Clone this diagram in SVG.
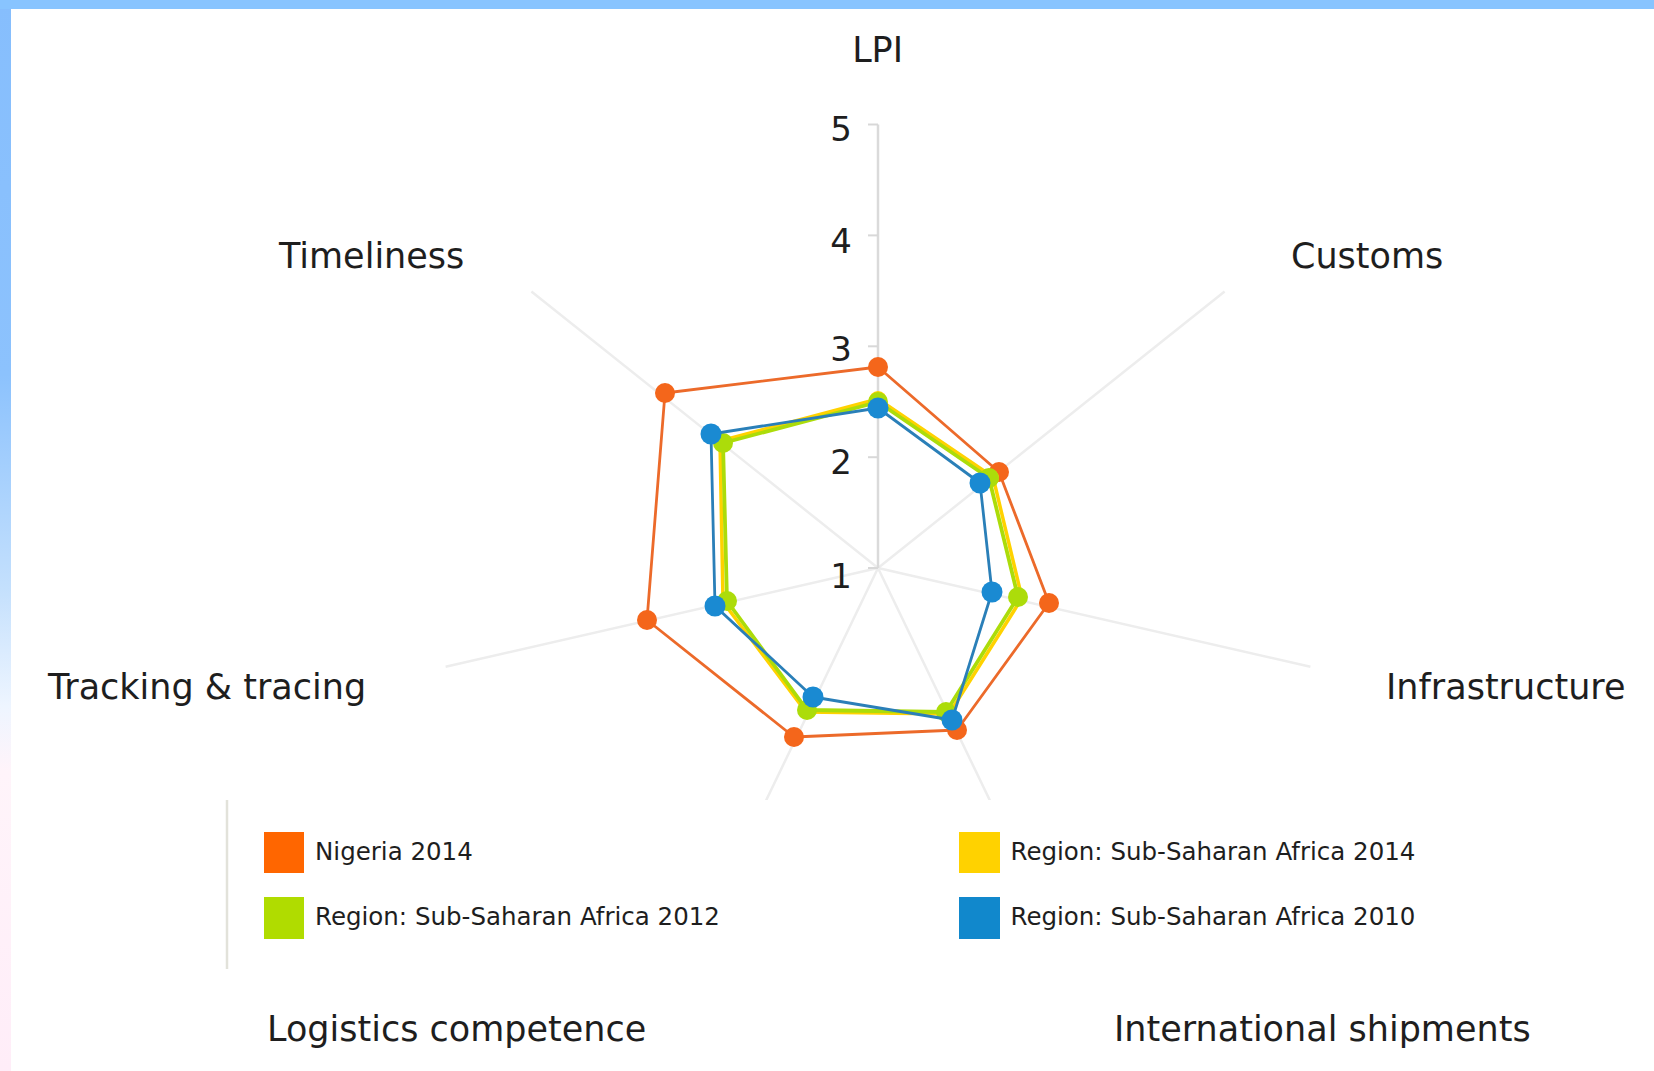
<svg xmlns="http://www.w3.org/2000/svg" width="1654" height="1071" viewBox="0 0 1654 1071">
  <defs>
    <linearGradient id="sidebar" x1="0" y1="0" x2="0" y2="1">
      <stop offset="0" stop-color="#86befd"/>
      <stop offset="0.35" stop-color="#8cc2fd"/>
      <stop offset="0.55" stop-color="#c4e0fd"/>
      <stop offset="0.66" stop-color="#eef5ff"/>
      <stop offset="0.72" stop-color="#fff4fa"/>
      <stop offset="1" stop-color="#ffedf8"/>
    </linearGradient>
  </defs>
  <style>
    text { font-family: "DejaVu Sans", Verdana, sans-serif; fill: #1e1e1e; }
    .axlabel { font-size: 35px; }
    .tick { font-size: 34px; text-anchor: end; }
    .leg { font-size: 24.5px; }
    .axis { stroke: #ededed; stroke-width: 2.5; fill: none; }
    .axis-main { stroke: #dadada; stroke-width: 2.5; fill: none; }
    .tmark { stroke: #d8d8d8; stroke-width: 2; }
    .series polygon { fill: none; stroke-linejoin: round; }
  </style>

  <rect x="0" y="0" width="1654" height="1071" fill="#ffffff"/>
  <rect x="0" y="0" width="11" height="1071" fill="url(#sidebar)"/>
  <rect x="0" y="0" width="1654" height="9" fill="#88c4ff"/>

  <g id="axes">
    <line class="axis" x1="878" y1="568" x2="1224.6" y2="291.4"/>
    <line class="axis" x1="878" y1="568" x2="1310.4" y2="666.7"/>
    <line class="axis" x1="878" y1="568" x2="1070.4" y2="967.6"/>
    <line class="axis" x1="878" y1="568" x2="685.6" y2="967.6"/>
    <line class="axis" x1="878" y1="568" x2="445.6" y2="666.7"/>
    <line class="axis" x1="878" y1="568" x2="531.4" y2="291.4"/>
    <line class="axis-main" x1="878" y1="568" x2="878" y2="124.5"/>
    <line class="tmark" x1="868" y1="124.5" x2="878" y2="124.5"/>
    <line class="tmark" x1="868" y1="235.4" x2="878" y2="235.4"/>
    <line class="tmark" x1="868" y1="346.3" x2="878" y2="346.3"/>
    <line class="tmark" x1="868" y1="457.2" x2="878" y2="457.2"/>
    <line class="tmark" x1="868" y1="568" x2="878" y2="568"/>
  </g>

  <g id="ticks">
    <text class="tick" x="852" y="141">5</text>
    <text class="tick" x="852" y="253">4</text>
    <text class="tick" x="852" y="360.5">3</text>
    <text class="tick" x="852" y="473.5">2</text>
    <text class="tick" x="852" y="587.5">1</text>
  </g>

  <g id="axis-labels">
    <text id="lbl-lpi" class="axlabel" x="877.6" y="62" text-anchor="middle">LPI</text>
    <text id="lbl-customs" class="axlabel" x="1291" y="267.5">Customs</text>
    <text id="lbl-infrastructure" class="axlabel" x="1386" y="699">Infrastructure</text>
    <text id="lbl-intl" class="axlabel" x="1114" y="1040.5">International shipments</text>
    <text id="lbl-logistics" class="axlabel" x="267" y="1040.5">Logistics competence</text>
    <text id="lbl-tracking" class="axlabel" x="48" y="699">Tracking &amp; tracing</text>
    <text id="lbl-timeliness" class="axlabel" x="279" y="267.5">Timeliness</text>
  </g>

  <g id="series" class="series">
    <g id="nigeria-2014" fill="#f4661b">
      <polygon points="878,367 999,472 1049,603 957,730 794,737 647,620 665,393" stroke="#ec6a2a" stroke-width="2.8"/>
      <circle cx="878" cy="367" r="10"/>
      <circle cx="999" cy="472" r="10"/>
      <circle cx="1049" cy="603" r="10"/>
      <circle cx="957" cy="730" r="10"/>
      <circle cx="794" cy="737" r="10"/>
      <circle cx="647" cy="620" r="10"/>
      <circle cx="665" cy="393" r="10"/>
    </g>
    <g id="ssa-2014" fill="#ffd200">
      <polygon points="878,399 993,477 1022,598 949,714 806,712 723,602 720,441" stroke="#ffd200" stroke-width="3.5"/>
      <circle cx="878" cy="400" r="9"/>
      <circle cx="990" cy="478" r="9"/>
      <circle cx="1018" cy="597" r="9"/>
      <circle cx="946" cy="712" r="9"/>
      <circle cx="807" cy="710" r="9"/>
      <circle cx="727" cy="601" r="9"/>
      <circle cx="723" cy="443" r="9"/>
    </g>
    <g id="ssa-2012" fill="#acdc0a">
      <polygon points="878,402 989,478 1018,597 946,712 807,710 727,601 723,443" stroke="#acdc0a" stroke-width="3.8"/>
      <circle cx="878" cy="402" r="10"/>
      <circle cx="989" cy="478" r="10"/>
      <circle cx="1018" cy="597" r="10"/>
      <circle cx="946" cy="712" r="10"/>
      <circle cx="807" cy="710" r="10"/>
      <circle cx="727" cy="601" r="10"/>
      <circle cx="723" cy="443" r="10"/>
    </g>
    <g id="ssa-2010" fill="#1a8ad2">
      <polygon points="878,408 980,483 992,592 952,720 813,697 715,606 711,434" stroke="#2a7fb8" stroke-width="2.8"/>
      <circle cx="878" cy="408" r="10.5"/>
      <circle cx="980" cy="483" r="10.5"/>
      <circle cx="992" cy="592" r="10.5"/>
      <circle cx="952" cy="720" r="10.5"/>
      <circle cx="813" cy="697" r="10.5"/>
      <circle cx="715" cy="606" r="10.5"/>
      <circle cx="711" cy="434" r="10.5"/>
    </g>
  </g>

  <g id="legend">
    <rect x="226" y="800" width="1240" height="169" fill="#ffffff"/>
    <line x1="227" y1="800" x2="227" y2="969" stroke="#e2e2da" stroke-width="2.5"/>
    <g id="leg-nigeria">
      <rect x="264" y="832" width="40" height="41" fill="#ff6600"/>
      <text class="leg" x="315" y="860">Nigeria 2014</text>
    </g>
    <g id="leg-ssa2012">
      <rect x="264" y="897" width="40" height="42" fill="#b0dc00"/>
      <text class="leg" x="315" y="925">Region: Sub-Saharan Africa 2012</text>
    </g>
    <g id="leg-ssa2014">
      <rect x="959" y="832" width="41" height="41" fill="#ffd200"/>
      <text class="leg" x="1010.5" y="860">Region: Sub-Saharan Africa 2014</text>
    </g>
    <g id="leg-ssa2010">
      <rect x="959" y="897" width="41" height="42" fill="#1188cc"/>
      <text class="leg" x="1010.5" y="925">Region: Sub-Saharan Africa 2010</text>
    </g>
  </g>
</svg>
